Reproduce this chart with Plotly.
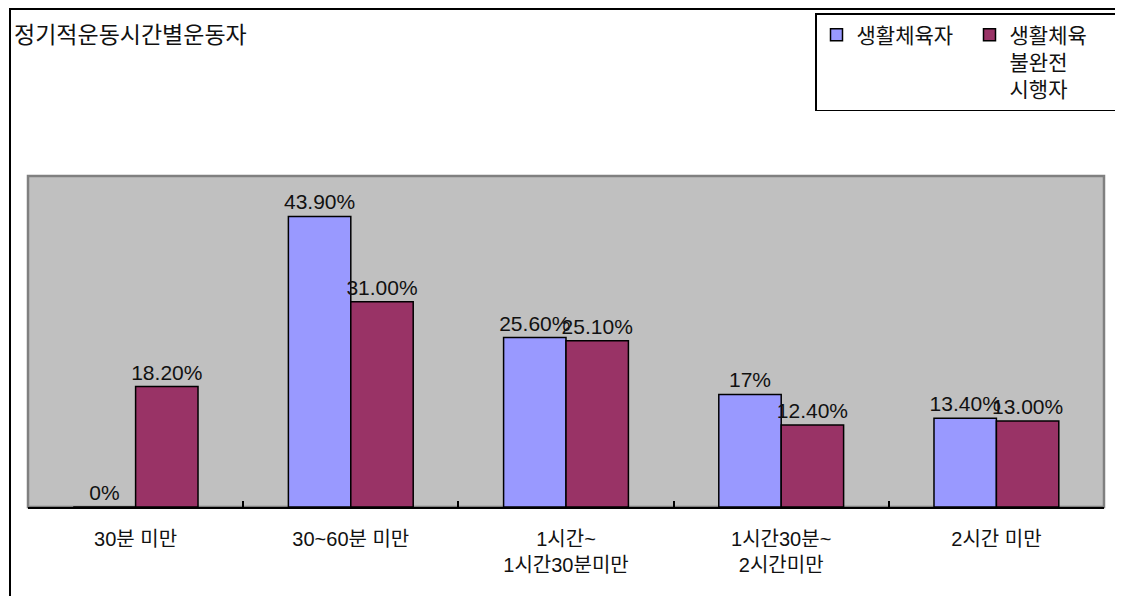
import plotly.graph_objects as go

categories = ["30분 미만", "30~60분 미만", "1시간~<br>1시간30분미만", "1시간30분~<br>2시간미만", "2시간 미만"]
series_names = ["생활체육자", "생활체육<br>불완전<br>시행자"]
values_a = [0, 43.9, 25.6, 17, 13.4]
values_b = [18.2, 31.0, 25.1, 12.4, 13.0]
labels_a = ["0%", "43.90%", "25.60%", "17%", "13.40%"]
labels_b = ["18.20%", "31.00%", "25.10%", "12.40%", "13.00%"]
title_text = "정기적운동시간별운동자"

FONT = "Liberation Sans, Arial, Noto Sans CJK KR, sans-serif"

OFF = 8  # page body margin
W, H = 1123 - OFF, 596 - OFF
L, T = 28 - OFF, 176 - OFF
R = W - (1104 - OFF)
B = H - (507 - OFF)
pw = W - L - R
ph = H - T - B

def px_x(x):
    return (x - OFF - L) / pw

def px_y(y):
    return 1 + (T - (y - OFF)) / ph

fig = go.Figure()
fig.add_trace(go.Bar(
    x=categories, y=values_a, name=series_names[0],
    marker=dict(color="#9999FF", line=dict(color="black", width=1.5)),
    text=labels_a, textposition="outside", constraintext="none", cliponaxis=False,
    textfont=dict(family=FONT, size=21, color="#111111"),
))
fig.add_trace(go.Bar(
    x=categories, y=values_b, name=series_names[1],
    marker=dict(color="#993366", line=dict(color="black", width=1.5)),
    text=labels_b, textposition="outside", constraintext="none", cliponaxis=False,
    textfont=dict(family=FONT, size=21, color="#111111"),
))

fig.update_layout(
    width=W, height=H,
    margin=dict(l=L, r=R, t=T, b=B, autoexpand=False),
    paper_bgcolor="white",
    plot_bgcolor="#C0C0C0",
    barmode="group",
    bargap=0.42,
    bargroupgap=0,
    font=dict(family=FONT, size=20, color="#111111"),
    showlegend=True,
    legend=dict(
        orientation="h",
        x=px_x(815), y=px_y(13), xanchor="left", yanchor="top",
        bordercolor="black", borderwidth=1.5, bgcolor="white",
        font=dict(family=FONT, size=21, color="#111111"),
        valign="top", entrywidth=108, itemwidth=30,
        traceorder="normal",
    ),
    xaxis=dict(
        showline=True, linecolor="black", linewidth=1.5,
        ticks="inside", ticklen=6, tickcolor="black", tickwidth=1.5,
        tickson="boundaries", showgrid=False,
        tickfont=dict(family=FONT, size=20, color="#111111"),
        ticklabelstandoff=13,
    ),
    yaxis=dict(range=[0, 50], visible=False, showgrid=False),
    annotations=[dict(
        text=title_text, xref="paper", yref="paper",
        x=px_x(12), y=px_y(35), xanchor="left", yanchor="middle",
        showarrow=False, font=dict(family=FONT, size=23, color="#111111"),
    )],
    shapes=[
        dict(type="rect", xref="paper", yref="paper", x0=0, y0=0, x1=1, y1=1,
             line=dict(color="#808080", width=2.5), layer="below"),
        dict(type="rect", xref="paper", yref="paper",
             x0=px_x(10), y0=-0.6, x1=1.1, y1=px_y(9),
             line=dict(color="black", width=2), layer="above"),
    ],
)

fig.write_html("out.html")
